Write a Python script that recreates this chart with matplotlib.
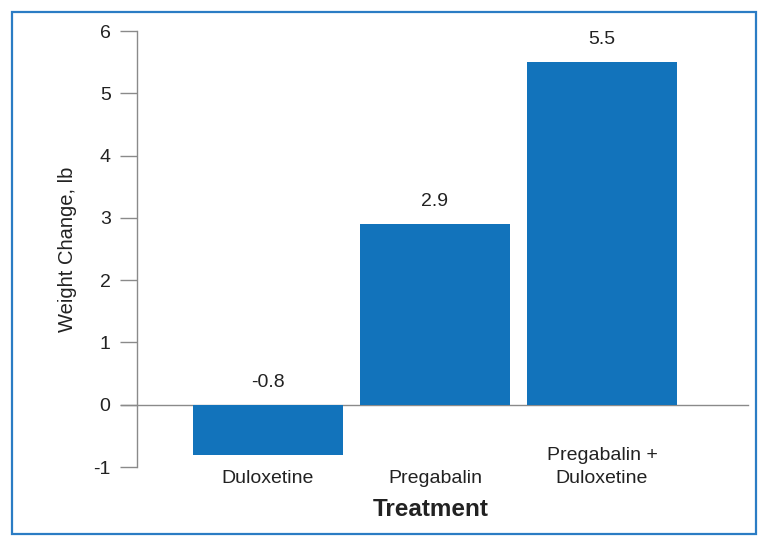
import matplotlib
matplotlib.use("Agg")
import matplotlib.pyplot as plt
from matplotlib.patches import Rectangle

plt.rcParams['font.family'] = ['Liberation Sans', 'DejaVu Sans']

treatments = ["Duloxetine", "Pregabalin", "Pregabalin +\nDuloxetine"]
weight_change = [-0.8, 2.9, 5.5]
y_ticks = [-1, 0, 1, 2, 3, 4, 5, 6]

bar_color = "#1273bb"
frame_color = "#2b7cc4"
axis_color = "#8a8a8a"
text_color = "#222222"

fig = plt.figure(figsize=(7.68, 5.47), dpi=100)
ax = fig.add_axes([137 / 768, 1 - 467 / 547, (748 - 137) / 768, (467 - 31) / 547])

x = list(range(len(treatments)))
ax.bar(x, weight_change, width=0.9, color=bar_color, zorder=2)

ax.set_xlim(-0.784, 2.874)
ax.set_ylim(-1, 6)
ax.set_yticks(y_ticks)
ax.set_yticklabels([str(t) for t in y_ticks], fontsize=14, color=text_color)
ax.tick_params(axis="y", length=12, width=1, color=axis_color, pad=7)
ax.set_xticks([])

for side in ["top", "right", "bottom"]:
    ax.spines[side].set_visible(False)
ax.spines["left"].set_color(axis_color)
ax.spines["left"].set_linewidth(1)

# zero line running under the bars, starting at the tick marks
ax.axhline(0, xmin=-0.027, xmax=1, color=axis_color, lw=1, clip_on=False, zorder=1)

for xi, v in zip(x, weight_change):
    ax.text(xi, max(v, 0) + 0.22, f"{v:.1f}", ha="center", va="bottom",
            fontsize=14, color=text_color)

for xi, name in zip(x, treatments):
    ax.text(xi, -1.25, name, ha="center", va="baseline", fontsize=14,
            color=text_color, clip_on=False, linespacing=1.45)

ax.set_ylabel("Weight Change, lb", fontsize=14.5, color=text_color, labelpad=12)
fig.text(431 / 768, 1 - 510 / 547, "Treatment", ha="center", va="center",
         fontsize=17.5, fontweight="bold", color=text_color)

fig.patches.append(Rectangle((12 / 768, 1 - 534 / 547), (756 - 12) / 768, (534 - 12) / 547,
                             transform=fig.transFigure, fill=False,
                             edgecolor=frame_color, lw=1.6))

fig.savefig("out.png", dpi=100)
